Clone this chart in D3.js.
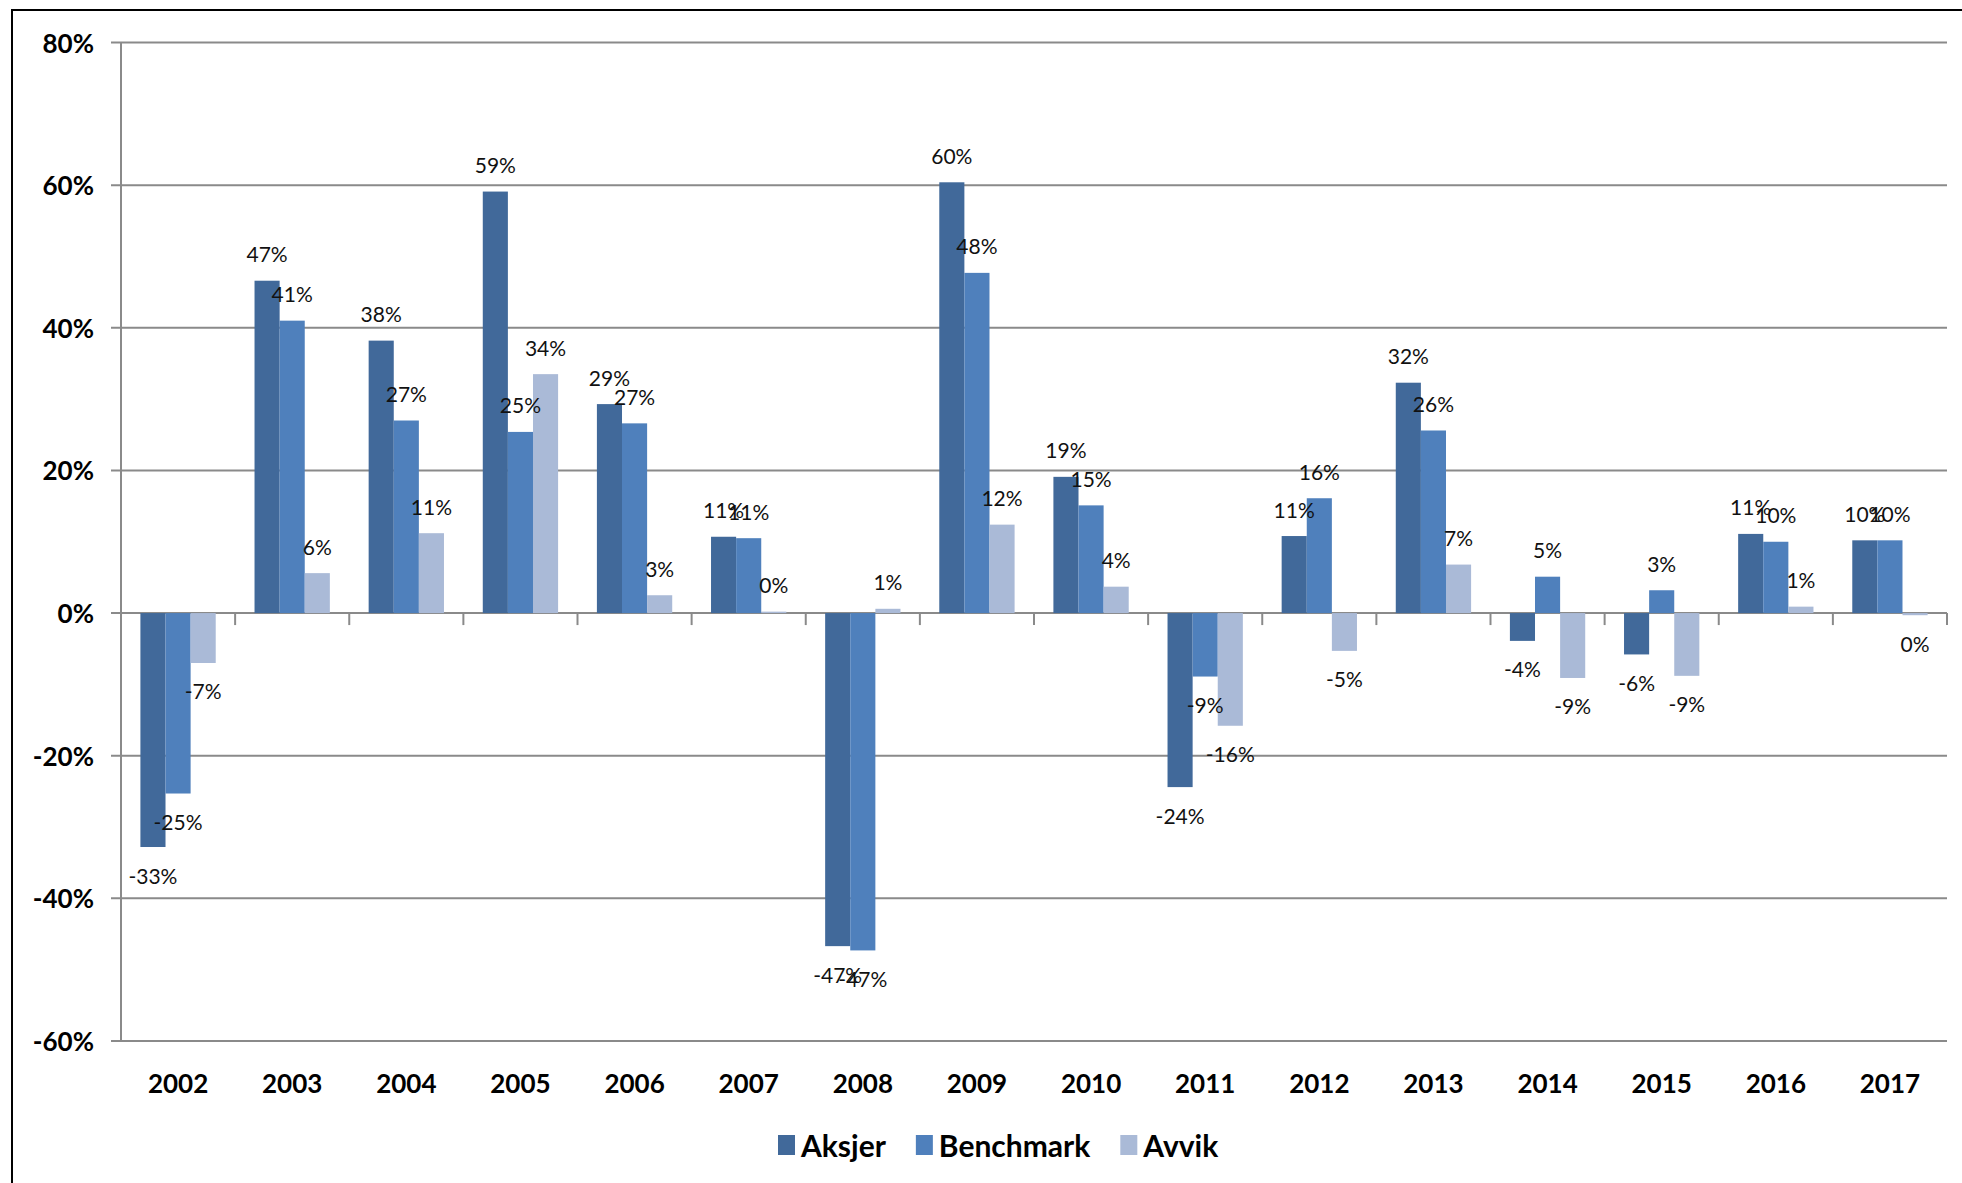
<!DOCTYPE html>
<html>
<head>
<meta charset="utf-8">
<script src="https://cdn.jsdelivr.net/npm/d3@7"></script>
<style>
  body { margin: 0; background: #fff; }
  svg { display: block; }
</style>
</head>
<body>
<svg></svg>
<script>
// years and series (percent)
const years = ["2002", "2003", "2004", "2005", "2006", "2007", "2008", "2009",
               "2010", "2011", "2012", "2013", "2014", "2015", "2016", "2017"];
const seriesNames = ["Aksjer", "Benchmark", "Avvik"];
const aksjer    = [-32.8, 46.6, 38.2, 59.1, 29.3, 10.7, -46.7, 60.4, 19.1, -24.4, 10.8, 32.3, -3.9, -5.8, 11.1, 10.2];
const benchmark = [-25.3, 41.0, 27.0, 25.4, 26.6, 10.5, -47.3, 47.7, 15.1, -8.9, 16.1, 25.6, 5.1, 3.2, 10.0, 10.2];
const avvik     = [-7.0, 5.6, 11.2, 33.5, 2.5, 0.2, 0.6, 12.4, 3.7, -15.8, -5.3, 6.8, -9.1, -8.8, 0.9, -0.3];
const yTicks = [80, 60, 40, 20, 0, -20, -40, -60];

const colors = ["#41699A", "#4F80BC", "#AABAD7"];
const seriesData = [aksjer, benchmark, avvik];

const width = 1962, height = 1183;
const svg = d3.select("svg").attr("width", width).attr("height", height);

// outer frame (only top/left visible in the original)
svg.append("rect")
    .attr("x", 12).attr("y", 10)
    .attr("width", 2000).attr("height", 1300)
    .attr("fill", "none")
    .attr("stroke", "#000")
    .attr("stroke-width", 2);

const plotLeft = 121, plotRight = 1947, plotTop = 42.5, plotBottom = 1041;

const y = d3.scaleLinear().domain([-60, 80]).range([plotBottom, plotTop]);
const x0 = d3.scaleBand().domain(years).range([plotLeft, plotRight]).padding(0);
const bw = x0.bandwidth();
const x1 = d3.scaleBand().domain(seriesNames).range([bw * 0.17, bw * 0.83]).padding(0);

const grid = "#8a8a8a";

// gridlines + y ticks
svg.append("g").selectAll("line")
    .data(yTicks)
    .enter().append("line")
    .attr("x1", plotLeft - 10).attr("x2", plotRight)
    .attr("y1", d => y(d)).attr("y2", d => y(d))
    .attr("stroke", grid).attr("stroke-width", 2);

// y axis line
svg.append("line")
    .attr("x1", plotLeft).attr("x2", plotLeft)
    .attr("y1", y(80)).attr("y2", y(-60))
    .attr("stroke", grid).attr("stroke-width", 2);

// category ticks below zero line
svg.append("g").selectAll("line")
    .data(d3.range(years.length + 1))
    .enter().append("line")
    .attr("x1", i => plotLeft + i * bw).attr("x2", i => plotLeft + i * bw)
    .attr("y1", y(0)).attr("y2", y(0) + 12)
    .attr("stroke", grid).attr("stroke-width", 2);

// y tick labels
svg.append("g").selectAll("text")
    .data(yTicks)
    .enter().append("text")
    .attr("x", 94)
    .attr("y", d => y(d))
    .attr("text-anchor", "end")
    .attr("dominant-baseline", "central")
    .style("font-family", "Lato, sans-serif")
    .style("font-weight", "bold")
    .style("font-size", "26px")
    .text(d => d + "%");

// x labels
svg.append("g").selectAll("text")
    .data(years)
    .enter().append("text")
    .attr("x", d => x0(d) + bw / 2)
    .attr("y", 1083)
    .attr("text-anchor", "middle")
    .attr("dominant-baseline", "central")
    .style("font-family", "Lato, sans-serif")
    .style("font-weight", "bold")
    .style("font-size", "26px")
    .text(d => d);

// bars
const flat = [];
years.forEach((yr, i) => {
    seriesNames.forEach((s, j) => {
        flat.push({ year: yr, series: s, idx: j, value: seriesData[j][i] });
    });
});

svg.append("g").selectAll("rect")
    .data(flat)
    .enter().append("rect")
    .attr("x", d => x0(d.year) + x1(d.series))
    .attr("width", x1.bandwidth())
    .attr("y", d => y(Math.max(0, d.value)))
    .attr("height", d => Math.abs(y(d.value) - y(0)))
    .attr("fill", d => colors[d.idx]);

// data labels
svg.append("g").selectAll("text")
    .data(flat)
    .enter().append("text")
    .attr("x", d => x0(d.year) + x1(d.series) + x1.bandwidth() / 2)
    .attr("y", d => d.value >= 0 ? y(d.value) - 27 : y(d.value) + 28)
    .attr("text-anchor", "middle")
    .attr("dominant-baseline", "central")
    .style("font-family", "Lato, sans-serif")
    .style("font-size", "21px")
    .attr("fill", "#111")
    .text(d => Math.round(d.value) + "%");

// legend
const legend = svg.append("g");
let lx = 778;
seriesNames.forEach((s, j) => {
    legend.append("rect")
        .attr("x", lx).attr("y", 1135)
        .attr("width", 17).attr("height", 20)
        .attr("fill", colors[j]);
    const t = legend.append("text")
        .attr("x", lx + 23).attr("y", 1145)
        .attr("dominant-baseline", "central")
        .style("font-family", "Lato, sans-serif")
        .style("font-weight", "bold")
        .style("font-size", "30px")
        .text(s);
    lx += 23 + t.node().getComputedTextLength() + 30;
});
</script>
</body>
</html>
